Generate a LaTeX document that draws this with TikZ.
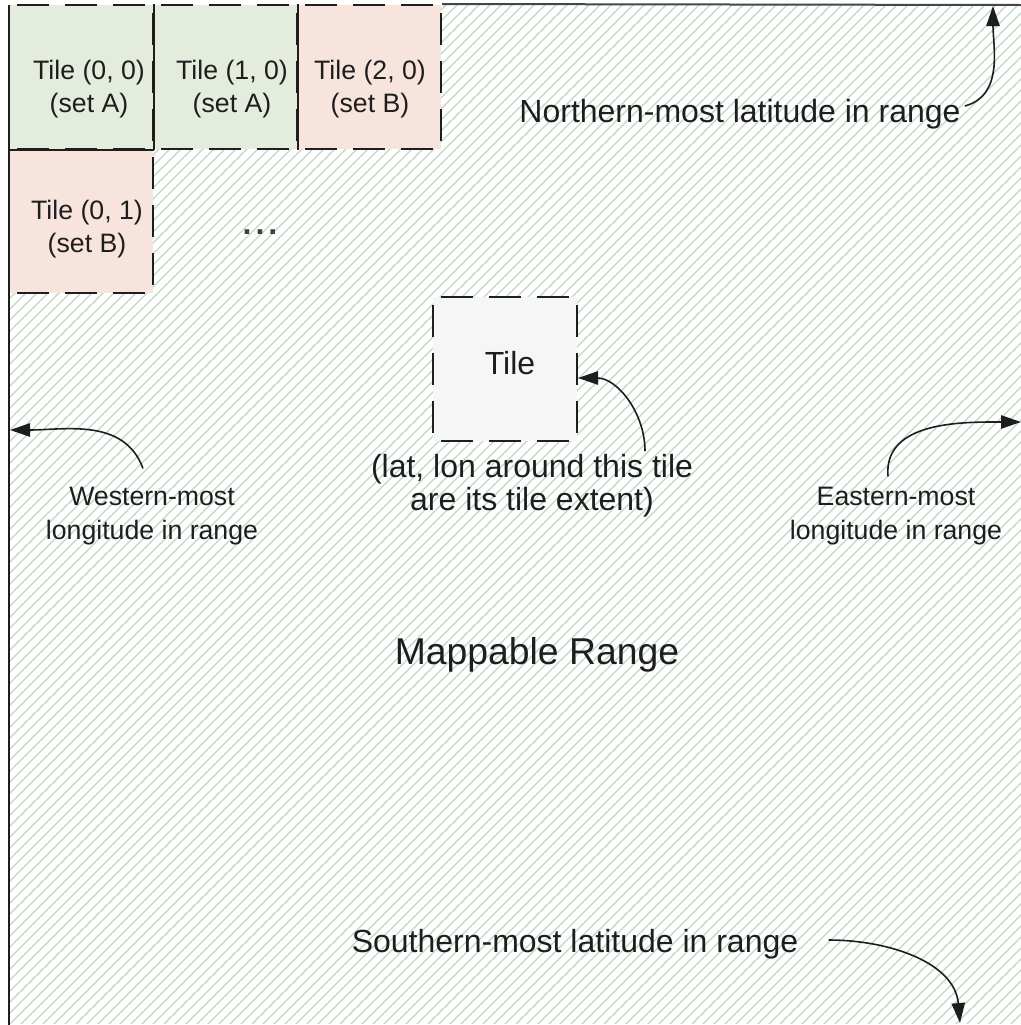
\documentclass[tikz,border=0pt]{standalone}
\usepackage{fontspec}
\setmainfont{Liberation Sans}
\usetikzlibrary{arrows.meta}
\definecolor{hatch}{RGB}{192,214,196}
\definecolor{setA}{RGB}{227,236,221}
\definecolor{setB}{RGB}{247,229,221}
\definecolor{tilebg}{RGB}{246,246,246}
\definecolor{ink}{RGB}{30,30,30}
\definecolor{edge}{RGB}{70,70,70}
\begin{document}
\begin{tikzpicture}[x=0.75pt,y=-0.75pt,
  tilebox/.style={minimum width=108pt,minimum height=108pt,inner sep=0pt,
    draw=ink,line width=1.5pt,dash pattern=on 24pt off 12pt,dash phase=-6pt},
  tiletext/.style={align=center,inner sep=0pt,text=ink,
    font=\fontsize{20}{24.5}\selectfont},
  note/.style={align=center,inner sep=0pt,text=ink,
    font=\fontsize{20}{26}\selectfont},
  bignote/.style={align=center,inner sep=0pt,text=ink,
    font=\fontsize{24}{25}\selectfont},
  conn/.style={draw=ink,line width=1.2pt,
    -{Triangle[length=15pt,width=10pt]}},
  solidedge/.style={draw=ink,line width=1.5pt}]
\useasboundingbox (0,0) rectangle (1021,1025);

% hatched mappable area
\begin{scope}
  \clip (9,5) rectangle (1021,1023);
  \foreach \c in {0,11,...,2057}
    \draw[hatch,line width=1pt] (\c,0) -- (0,\c);
\end{scope}

% tiles of the first rows
\node[tilebox,fill=setA] (t00) at (81,77) {};
\node[tilebox,fill=setA] (t10) at (225,77) {};
\node[tilebox,fill=setB] (t20) at (369,77) {};
\node[tilebox,fill=setB] (t01) at (81,221) {};

% shared tile edges read as solid lines
\draw[solidedge] (t00.north east) -- (t00.south east);
\draw[solidedge] (t10.north east) -- (t10.south east);
\draw[solidedge] (t00.south west) -- (t00.south east);

% outline of the range
\draw[edge,line width=1.5pt] (t20.north east) -- (1021,5);
\draw[ink,line width=2pt] (9,5) -- (9,1025);

\node[tiletext] (t00txt) at (89,89) {Tile (0, 0)\\(set A)};
\node[tiletext] (t10txt) at (232,89) {Tile (1, 0)\\(set A)};
\node[tiletext] (t20txt) at (370,89) {Tile (2, 0)\\(set B)};
\node[tiletext] (t01txt) at (87,229) {Tile (0, 1)\\(set B)};
\node[inner sep=0pt,text=ink!85,font=\fontsize{24}{24}\bfseries] (more) at (260,232) {.\kern3pt.\kern3pt.};

% single tile in the middle
\node[tilebox,fill=tilebg] (ctile) at (505,369) {};
\node[bignote] (ctiletxt) at (510,363) {Tile};
\node[bignote] (extent) at (532,486) {(lat, lon around this tile\\are its tile extent)};

% boundary labels
\node[bignote] (north) at (740,114) {Northern-most latitude in range};
\node[bignote] (south) at (575,944) {Southern-most latitude in range};
\node[note] (west) at (152,516) {Western-most\\longitude in range};
\node[note] (east) at (896,516) {Eastern-most\\longitude in range};
\node[font=\fontsize{28}{30}\selectfont,text=ink,inner sep=0pt] (range) at (537,655) {Mappable Range};

% points on the range boundary
\coordinate (nedge) at (993,6);
\coordinate (wedge) at (10,430);
\coordinate (eedge) at (1021,422);
\coordinate (sedge) at (960,1023);

\draw[conn] ([shift={(4,-8)}]north.east) to[out=15,in=-90] (nedge);
\draw[conn] ([shift={(-9,-18)}]west.north) to[out=110,in=0] (wedge);
\draw[conn] ([shift={(-8,-10)}]east.north) to[out=95,in=180] (eedge);
\draw[conn] ([shift={(113,-3)}]extent.north) to[out=90,in=0] ([shift={(0,9)}]ctile.east);
\draw[conn] ([shift={(30,-4)}]south.east) to[out=0,in=95] (sedge);
\end{tikzpicture}
\end{document}
